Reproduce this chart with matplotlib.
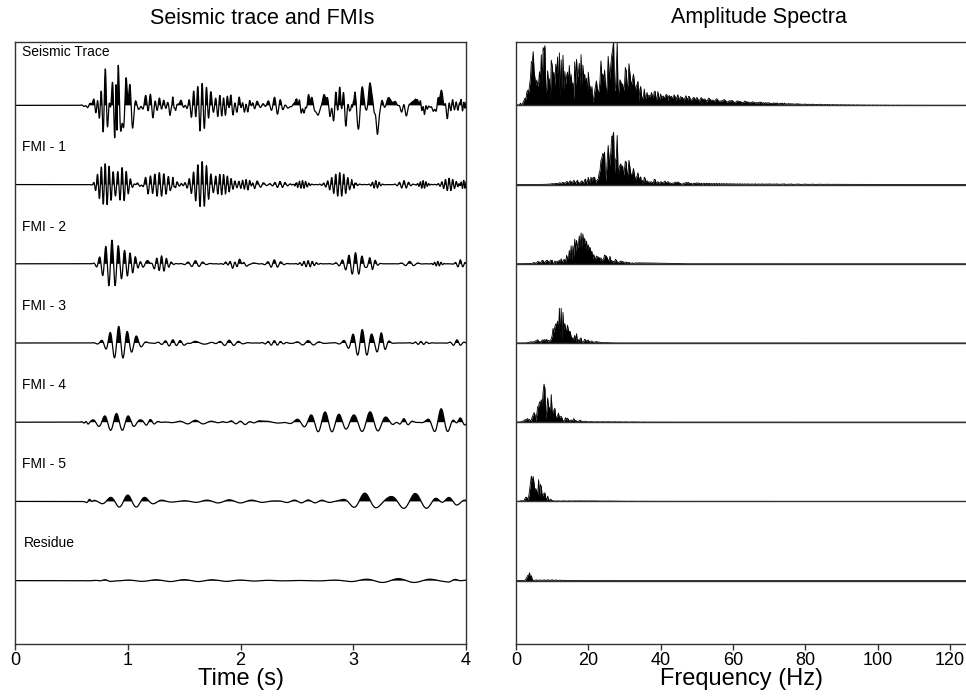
import numpy as np
import matplotlib
matplotlib.use("Agg")
from matplotlib import pyplot as plt

# --- data ----------------------------------------------------------------
# each FMI is described by wavelet bursts: (centre time s, width s, freq Hz, amplitude)
# amplitudes are in units of the trace spacing
fmi1_bursts = [(0.80, 0.06, 29, 0.26), (0.95, 0.05, 27, 0.22), (1.15, 0.04, 16, 0.05),
               (1.28, 0.09, 25, 0.15), (1.40, 0.02, 55, 0.03), (1.66, 0.07, 26, 0.29),
               (1.85, 0.07, 30, 0.12), (2.05, 0.05, 32, 0.06), (2.15, 0.05, 18, 0.04),
               (2.35, 0.05, 22, 0.04), (2.50, 0.015, 85, 0.015), (2.55, 0.04, 36, 0.05),
               (2.88, 0.07, 28, 0.15), (3.00, 0.02, 70, 0.02), (3.20, 0.03, 33, 0.05),
               (3.45, 0.04, 24, 0.05), (3.62, 0.03, 40, 0.05), (3.85, 0.05, 31, 0.08),
               (3.98, 0.03, 45, 0.05)]
fmi2_bursts = [(0.86, 0.07, 18, 0.30), (1.02, 0.06, 21, 0.12), (1.18, 0.05, 10, 0.04),
               (1.30, 0.05, 23, 0.10), (1.60, 0.06, 15, 0.04), (1.95, 0.06, 24, 0.04),
               (2.00, 0.08, 8, 0.03), (2.30, 0.05, 17, 0.05), (2.60, 0.05, 27, 0.04),
               (3.02, 0.08, 17, 0.14), (3.15, 0.04, 22, 0.06), (3.50, 0.05, 13, 0.03),
               (3.75, 0.03, 35, 0.03), (3.95, 0.03, 22, 0.05)]
fmi3_bursts = [(0.92, 0.08, 13, 0.21), (1.08, 0.05, 11, 0.06), (1.40, 0.08, 15, 0.04),
               (1.60, 0.10, 6, 0.02), (1.90, 0.08, 12, 0.035), (2.30, 0.06, 18, 0.03),
               (2.60, 0.08, 10, 0.03), (3.08, 0.09, 12, 0.17), (3.25, 0.04, 14, 0.10),
               (3.60, 0.05, 20, 0.02), (3.92, 0.04, 15, 0.04)]
fmi4_bursts = [(0.63, 0.02, 22, 0.02), (0.90, 0.13, 9.5, 0.11), (1.20, 0.05, 14, 0.03),
               (1.60, 0.12, 7, 0.025), (2.00, 0.10, 12, 0.02), (2.20, 0.20, 3, 0.015),
               (2.75, 0.15, 8, 0.13), (3.15, 0.12, 7, 0.13), (3.45, 0.05, 13, 0.04),
               (3.78, 0.07, 8, 0.17), (3.95, 0.04, 11, 0.06)]
fmi5_bursts = [(0.66, 0.02, 18, 0.025), (1.00, 0.16, 6.5, 0.08), (1.90, 0.30, 5, 0.02),
               (2.60, 0.15, 8, 0.02), (3.10, 0.12, 5, 0.10), (3.55, 0.20, 4.8, 0.10),
               (3.85, 0.08, 6, 0.08)]
residue_bursts = [(0.80, 0.05, 10, 0.01), (1.50, 0.50, 4, 0.012), (3.40, 0.35, 3.5, 0.025),
                  (3.90, 0.05, 8, 0.015)]

onsets = [0.70, 0.70, 0.68, 0.58, 0.60, 0.62]   # first arrival of each component (s)
spike_time = 0.90                                  # glitch seen only on the raw trace
spike_amp = 0.58

trace_names = ['Seismic Trace', 'FMI - 1', 'FMI - 2', 'FMI - 3', 'FMI - 4', 'FMI - 5', 'Residue']
spec_peaks = [0.80, 0.66, 0.39, 0.44, 0.48, 0.32, 0.10]   # tallest spectral spike per row

time_ticks = [0, 1, 2, 3, 4]
freq_ticks = [0, 20, 40, 60, 80, 100, 120]

# --- build the traces --------------------------------------------------------
dt = 0.002
t = np.arange(0, 4.0 + dt / 2, dt)


def make_trace(bursts, onset):
    y = np.zeros_like(t)
    for t0, w, f, a in bursts:
        y += a * np.exp(-0.5 * ((t - t0) / w) ** 2) * np.cos(2 * np.pi * f * (t - t0))
    return y / (1 + np.exp(-(t - onset) / 0.01))


comps = [make_trace(b, o) for b, o in zip(
    [fmi1_bursts, fmi2_bursts, fmi3_bursts, fmi4_bursts, fmi5_bursts, residue_bursts], onsets)]
s = 0.0055
spike = -spike_amp * (t - spike_time) / s * np.exp(0.5 - 0.5 * ((t - spike_time) / s) ** 2)
seismic = np.sum(comps, axis=0) + spike
traces = [seismic] + comps

freqs = np.fft.rfftfreq(len(t), dt)
spectra = []
for tr, pk in zip(traces, spec_peaks):
    amp = np.abs(np.fft.rfft(tr))
    spectra.append(amp / amp.max() * pk)

# --- plot ----------------------------------------------------------------------
plt.rcParams['font.family'] = ['Liberation Sans', 'DejaVu Sans']

fig = plt.figure(figsize=(9.66, 6.98), dpi=100)
ax1 = fig.add_axes([15 / 966, 1 - 644 / 698, 451 / 966, 602 / 698])
ax2 = fig.add_axes([516 / 966, 1 - 644 / 698, 452 / 966, 602 / 698])

for k, (tr, name) in enumerate(zip(traces, trace_names)):
    base = -k
    ax1.fill_between(t, base, base + tr, where=tr > 0, interpolate=True, color='black', lw=0)
    ax1.plot(t, base + tr, color='black', lw=0.9)
    if k == 0:
        ax1.text(0.06, base + 0.67, name, fontsize=10, va='center', ha='left')
    else:
        ax1.text(0.06 + (0.02 if name == 'Residue' else 0), base + 0.47, name,
                 fontsize=10, va='center', ha='left')

    sp = spectra[k]
    ax2.fill_between(freqs, base, base + sp, color='black', lw=0)
    ax2.plot(freqs, base + sp, color='black', lw=0.6)
    ax2.axhline(base, color='#333333', lw=1.0)

ax1.set_xlim(0, 4)
ax2.set_xlim(0, 125)
for ax in (ax1, ax2):
    ax.set_ylim(-6.8, 0.8)
    ax.set_yticks([])
    for sp_name in ax.spines:
        ax.spines[sp_name].set_color('#333333')
        ax.spines[sp_name].set_linewidth(1.0)
    ax.tick_params(axis='x', direction='out', length=4, width=1, color='#333333', pad=2,
                   labelsize=13)
ax2.spines['right'].set_visible(False)

ax1.set_xticks(time_ticks)
ax1.set_xticklabels([str(v) for v in time_ticks])
ax2.set_xticks(freq_ticks)
ax2.set_xticklabels([str(v) for v in freq_ticks])
ax1.set_xlabel('Time (s)', fontsize=17, labelpad=-1)
ax2.set_xlabel('Frequency (Hz)', fontsize=17, labelpad=-1)

fig.text(262 / 966, 1 - 18 / 698, 'Seismic trace and FMIs', fontsize=15.5,
         ha='center', va='center')
fig.text(759 / 966, 1 - 18 / 698, 'Amplitude Spectra', fontsize=15.5,
         ha='center', va='center')

fig.savefig('out.png', dpi=100)
